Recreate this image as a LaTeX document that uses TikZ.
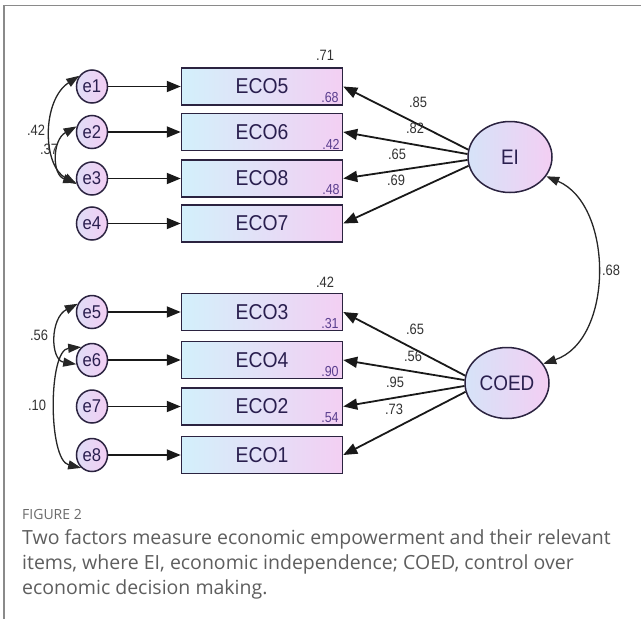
\documentclass[tikz,border=0pt]{standalone}
\usepackage{fontspec}
\setmainfont{Liberation Sans}
\newfontfamily\diagfont[FakeStretch=0.9]{Liberation Sans}
\newfontfamily\numfont[FakeStretch=0.86]{Liberation Sans}
\newfontfamily\capfont{Open Sans}
\usetikzlibrary{arrows.meta,shapes.geometric}
\definecolor{bdr}{HTML}{2B2340}
\definecolor{txt}{HTML}{2A1F4F}
\definecolor{numc}{HTML}{333333}
\definecolor{purp}{HTML}{5B3F8F}
\definecolor{boxL}{HTML}{D3F0FB}
\definecolor{boxR}{HTML}{F3CFF3}
\definecolor{ellL}{HTML}{D6E3F8}
\definecolor{ellR}{HTML}{F3CEF3}
\definecolor{frame}{HTML}{8A8A8A}
\definecolor{capc}{HTML}{5E5E5E}
\tikzset{
  item/.style={draw=bdr, line width=1.5pt, left color=boxL, right color=boxR,
    minimum width=161pt, minimum height=37pt, inner sep=0pt,
    font=\diagfont\fontsize{21.5}{21.5}\selectfont, text=txt},
  err/.style={ellipse, draw=bdr, line width=1.5pt, left color=ellL!70!ellR, right color=ellR,
    minimum width=31pt, minimum height=33pt, inner sep=0pt,
    font=\diagfont\fontsize{18.5}{18.5}\selectfont, text=txt},
  fac/.style={ellipse, draw=bdr, line width=1.5pt, left color=ellL, right color=ellR,
    minimum width=84pt, minimum height=71pt, inner sep=0pt,
    font=\diagfont\fontsize{21}{21}\selectfont, text=txt},
  arr/.style={line width=1.8pt, draw=black!90, -{Triangle[length=14pt,width=11pt]}},
  cov/.style={line width=1.3pt, draw=black!85, {Triangle[length=13pt,width=9pt]}-{Triangle[length=13pt,width=9pt]}},
  num/.style={font=\numfont\fontsize{15}{15}\selectfont, text=numc, inner sep=0pt},
  rsq/.style={font=\numfont\fontsize{14.5}{14.5}\selectfont, text=purp, inner sep=0pt},
  capline/.style={font=\capfont\fontsize{19.5}{19.5}\selectfont, text=capc, anchor=base west, inner sep=0pt},
}
\begin{document}
\begin{tikzpicture}[x=1pt,y=-1pt]
\useasboundingbox (0,0) rectangle (641,619);
\fill[white] (0,0) rectangle (641,619);
\draw[frame, line width=1.6pt] (641,5.5) -- (4,5.5) -- (4,619);

% items
\node[item] (eco5) at (262,86.5) {ECO5};
\node[item] (eco6) at (262,132) {ECO6};
\node[item] (eco8) at (262,178.5) {ECO8};
\node[item] (eco7) at (262,223.5) {ECO7};
\node[item] (eco3) at (262,312) {ECO3};
\node[item] (eco4) at (262,360) {ECO4};
\node[item] (eco2) at (262,406.5) {ECO2};
\node[item] (eco1) at (262,455) {ECO1};

% errors
\node[err] (e1) at (92,86.5) {e1};
\node[err] (e2) at (92,132) {e2};
\node[err] (e3) at (92,178.5) {e3};
\node[err] (e4) at (92,223.5) {e4};
\node[err] (e5) at (92,312) {e5};
\node[err] (e6) at (92,360) {e6};
\node[err] (e7) at (92,406.5) {e7};
\node[err] (e8) at (92,455) {e8};

% factors
\node[fac] (EI) at (510,157) {EI};
\node[fac] (COED) at (507,383) {COED};

% error arrows
\foreach \a/\b in {e1/eco5,e2/eco6,e3/eco8,e4/eco7,e5/eco3,e6/eco4,e7/eco2,e8/eco1}
  \draw[arr] (\a) -- (\b);

% loadings
\draw[arr] (EI.170) -- (eco5.east);
\draw[arr] (EI.176) -- (eco6.east);
\draw[arr] (EI.184) -- (eco8.east);
\draw[arr] (EI.192) -- (eco7.east);
\draw[arr] (COED.170) -- (eco3.east);
\draw[arr] (COED.176) -- (eco4.east);
\draw[arr] (COED.184) -- (eco2.east);
\draw[arr] (COED.192) -- (eco1.east);

% factor covariance
\draw[cov] (EI.-28) .. controls (614,205) and (614,340) .. (COED.28);
\node[num] (r68) at (611,270) {.68};

% error covariances
\draw[cov] (e1.140) .. controls (42,100) and (42,165) .. (e3.200);
\draw[cov] (e2.160) .. controls (52,140) and (52,175) .. (e3.195);
\draw[cov] (e5.150) .. controls (50,318) and (50,360) .. (e6.195);
\draw[cov] (e6.130) .. controls (48,350) and (48,460) .. (e8.230);

\node[num] (c42) at (36,130) {.42};
\node[num] (c37) at (49,149) {.37};
\node[num] (c56) at (39,335) {.56};
\node[num] (c10) at (37,405) {.10};

% loading labels
\node[num] (l1) at (418,102) {.85};
\node[num] (l2) at (415,128) {.82};
\node[num] (l3) at (397,154) {.65};
\node[num] (l4) at (396,180) {.69};
\node[num] (l5) at (415,329) {.65};
\node[num] (l6) at (413,356) {.56};
\node[num] (l7) at (395,382) {.95};
\node[num] (l8) at (394,409) {.73};

% squared multiple correlations
\node[num] (s71) at (325,55) {.71};
\node[rsq] (s68) at (330,98) {.68};
\node[rsq] (s42a) at (331,144) {.42};
\node[rsq] (s48) at (331,190) {.48};
\node[num] (s42b) at (325,282) {.42};
\node[rsq] (s31) at (330,324) {.31};
\node[rsq] (s90) at (330,372) {.90};
\node[rsq] (s54) at (330,418) {.54};

% caption
\node[capline, font=\capfont\fontsize{14}{14}\selectfont, text=black!58] (fig) at (22,519) {FIGURE 2};
\node[capline] (cap1) at (22,544) {Two factors measure economic empowerment and their relevant};
\node[capline] (cap2) at (22,569) {items, where EI, economic independence; COED, control over};
\node[capline] (cap3) at (22,594) {economic decision making.};
\end{tikzpicture}
\end{document}
